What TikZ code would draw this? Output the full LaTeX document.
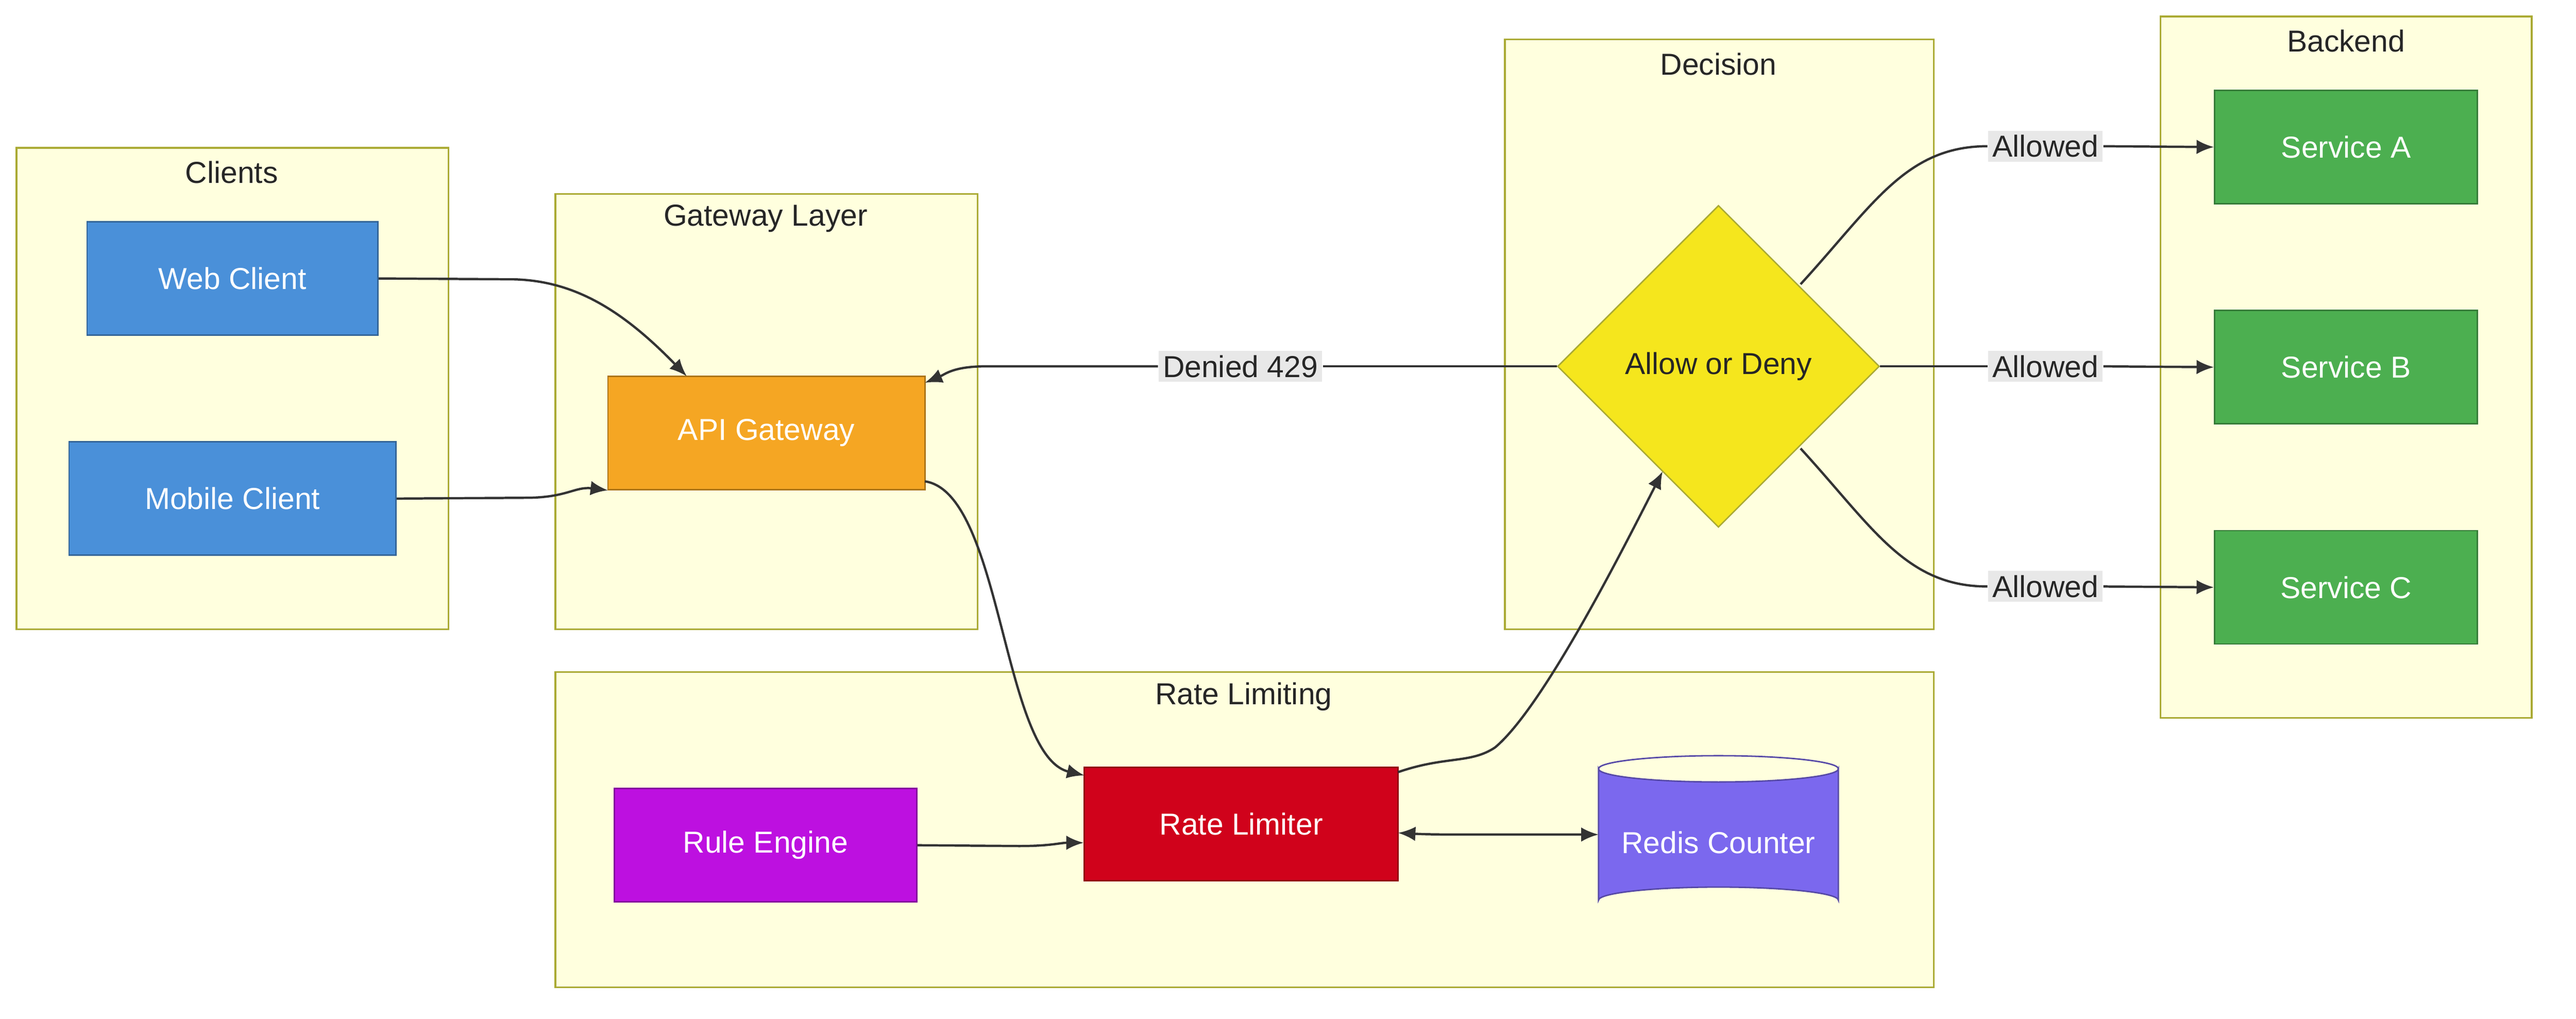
\documentclass[tikz,border=0pt]{standalone}
\usepackage{fontspec}
\setmainfont{Liberation Sans}
\usetikzlibrary{shapes.geometric,arrows.meta}
\definecolor{clfill}{HTML}{FFFFDE}
\definecolor{cldraw}{HTML}{AAAA33}
\definecolor{cblue}{HTML}{4A90D9}
\definecolor{corange}{HTML}{F5A623}
\definecolor{cgreen}{HTML}{4CAF50}
\definecolor{cpurple}{HTML}{BD10E0}
\definecolor{cred}{HTML}{D0021B}
\definecolor{cviolet}{HTML}{7B68EE}
\definecolor{cyellow}{HTML}{F5E61D}
\definecolor{edge}{HTML}{333333}
\definecolor{lblbg}{HTML}{E8E8E8}
\begin{document}
\begin{tikzpicture}[x=0.02cm,y=-0.02cm,font=\fontsize{10.5}{12}\selectfont,
  cluster/.style={draw=cldraw,fill=clfill,line width=0.6pt},
  ctitle/.style={text=black!85},
  box/.style={draw=#1!70!black,fill=#1,text=white,minimum height=1.38cm,inner sep=0pt,line width=0.5pt},
  conn/.style={draw=edge,line width=0.8pt,-{Latex[length=6pt,width=5pt]}},
  lbl/.style={fill=lblbg,inner sep=1.5pt,text=black!85}]
\useasboundingbox (0,0) rectangle (1568,620);
% clusters
\draw[cluster] (10,90) rectangle (273,383); \node[ctitle] (tcl) at (141,105) {Clients};
\draw[cluster] (338,118) rectangle (595,383); \node[ctitle] (tgw) at (466,133) {Gateway Layer};
\draw[cluster] (916,24) rectangle (1177,383); \node[ctitle] (tdc) at (1046,39) {Decision};
\draw[cluster] (1315,10) rectangle (1541,437); \node[ctitle] (tbe) at (1428,25) {Backend};
\draw[cluster] (338,409) rectangle (1177,601); \node[ctitle] (trl) at (757,424) {Rate Limiting};
% nodes
\node[box=cblue,minimum width=3.54cm] (web) at (141.5,169.5) {Web Client};
\node[box=cblue,minimum width=3.98cm] (mob) at (141.5,303.5) {Mobile Client};
\node[box=corange,minimum width=3.86cm] (api) at (466.5,263.5) {API Gateway};
\node[diamond,draw=cldraw,fill=cyellow,minimum width=3.92cm,minimum height=3.92cm,inner sep=0pt,line width=0.5pt,text=black!85] (dec) at (1046,223) {Allow or Deny};
\node[box=cgreen,minimum width=3.2cm] (sa) at (1428,89.5) {Service A};
\node[box=cgreen,minimum width=3.2cm] (sb) at (1428,223.5) {Service B};
\node[box=cgreen,minimum width=3.2cm] (sc) at (1428,357.5) {Service C};
\node[box=cpurple,minimum width=3.68cm] (rule) at (466,514.5) {Rule Engine};
\node[box=cred,minimum width=3.82cm] (rl) at (755.5,501.5) {Rate Limiter};
% cylinder
\draw[draw=cviolet!70!black,fill=cviolet,line width=0.5pt] (973,468) -- (973,548) arc[start angle=180,end angle=360,x radius=73,y radius=8] -- (1119,468) arc[start angle=0,end angle=180,x radius=73,y radius=8] -- cycle;
\draw[draw=cviolet!70!black,line width=0.5pt] (973,468) arc[start angle=180,end angle=360,x radius=73,y radius=8];
\node[text=white,minimum width=2.9cm,minimum height=1.6cm] (redis) at (1046,513) {Redis Counter};
% edges
\coordinate (apiT) at (418,229);
\draw[conn] (web.east) -- (310,170) .. controls (350,170) and (380,190) .. (apiT);
\draw[conn] (mob.east) -- (320,303) .. controls (345,303) and (350,296) .. (api.south east -| 370,296);
\node[lbl] (d429) at (755,223) {Denied 429};
\draw[draw=edge,line width=0.8pt] (dec.west) -- (d429.east);
\draw[conn] (d429.west) -- (600,223) .. controls (580,223) and (575,228) .. (563,233);
\draw[conn] (563,293) .. controls (610,300) and (610,460) .. (660,472);
\draw[conn] (851,470) .. controls (880,460) and (895,465) .. (910,455) .. controls (940,430) and (990,330) .. (1012,287);
\draw[conn] (rule.east) -- (620,515) .. controls (640,515) and (645,513) .. (rl.west |- 0,513);
\draw[draw=edge,line width=0.8pt,{Latex[length=6pt,width=5pt]}-{Latex[length=6pt,width=5pt]}] (851,507) .. controls (870,508) and (880,508) .. (900,508) -- (973,508);
\node[lbl] (la) at (1245,89) {Allowed};
\node[lbl] (lb) at (1245,223) {Allowed};
\node[lbl] (lc) at (1245,357) {Allowed};
\draw[draw=edge,line width=0.8pt] (1096,173) .. controls (1140,125) and (1160,89) .. (la.west);
\draw[draw=edge,line width=0.8pt] (dec.east) -- (lb.west);
\draw[draw=edge,line width=0.8pt] (1096,273) .. controls (1140,321) and (1160,357) .. (lc.west);
\draw[conn] (la.east) -- (sa.west);
\draw[conn] (lb.east) -- (sb.west);
\draw[conn] (lc.east) -- (sc.west);
\end{tikzpicture}
\end{document}
